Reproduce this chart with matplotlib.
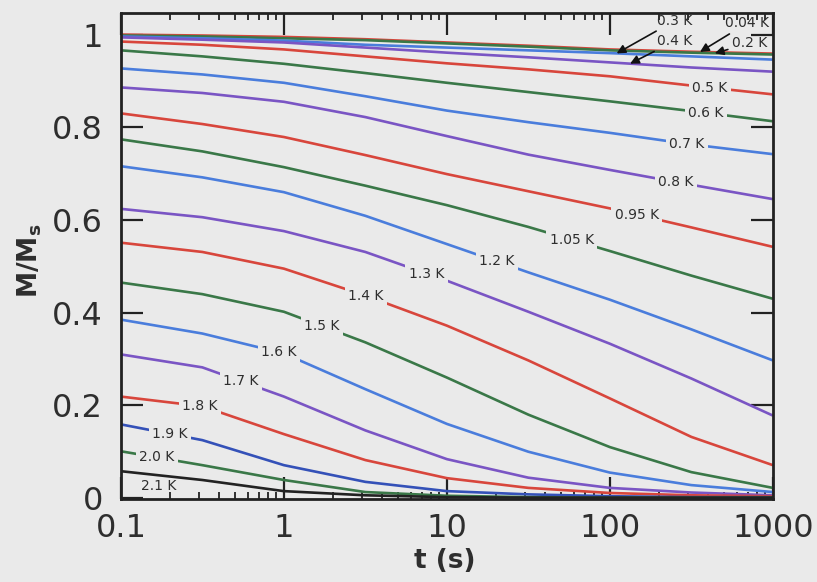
import numpy as np
import matplotlib
matplotlib.use("Agg")
import matplotlib.pyplot as plt
from matplotlib.ticker import FixedLocator, NullLocator, LogLocator, NullFormatter

# ---- data ----
t = [0.1, 0.316, 1, 3.16, 10, 31.6, 100, 316, 1000]

temps = ["0.04 K", "0.2 K", "0.3 K", "0.4 K", "0.5 K", "0.6 K", "0.7 K", "0.8 K",
         "0.95 K", "1.05 K", "1.2 K", "1.3 K", "1.4 K", "1.5 K", "1.6 K", "1.7 K",
         "1.8 K", "1.9 K", "2.0 K", "2.1 K"]

m_004 = [1.000, 0.998, 0.995, 0.990, 0.983, 0.976, 0.968, 0.963, 0.959]
m_02 = [0.998, 0.996, 0.992, 0.988, 0.981, 0.974, 0.966, 0.961, 0.957]
m_03 = [0.996, 0.992, 0.987, 0.978, 0.972, 0.966, 0.960, 0.953, 0.946]
m_04 = [0.994, 0.989, 0.983, 0.972, 0.961, 0.951, 0.940, 0.929, 0.920]
m_05 = [0.985, 0.978, 0.968, 0.953, 0.938, 0.925, 0.910, 0.890, 0.871]
m_06 = [0.966, 0.953, 0.937, 0.917, 0.896, 0.876, 0.856, 0.835, 0.813]
m_07 = [0.927, 0.914, 0.896, 0.867, 0.836, 0.811, 0.788, 0.763, 0.742]
m_08 = [0.886, 0.874, 0.855, 0.822, 0.781, 0.741, 0.708, 0.676, 0.645]
m_095 = [0.830, 0.807, 0.779, 0.740, 0.699, 0.662, 0.625, 0.584, 0.542]
m_105 = [0.774, 0.748, 0.714, 0.674, 0.632, 0.585, 0.533, 0.480, 0.430]
m_12 = [0.716, 0.692, 0.660, 0.609, 0.548, 0.487, 0.428, 0.364, 0.297]
m_13 = [0.624, 0.606, 0.576, 0.531, 0.469, 0.402, 0.333, 0.258, 0.178]
m_14 = [0.551, 0.531, 0.495, 0.437, 0.372, 0.297, 0.215, 0.132, 0.071]
m_15 = [0.465, 0.440, 0.402, 0.336, 0.260, 0.180, 0.110, 0.056, 0.022]
m_16 = [0.385, 0.355, 0.312, 0.235, 0.160, 0.100, 0.055, 0.028, 0.013]
m_17 = [0.310, 0.282, 0.219, 0.146, 0.084, 0.044, 0.022, 0.012, 0.006]
m_18 = [0.219, 0.198, 0.138, 0.082, 0.043, 0.022, 0.011, 0.006, 0.004]
m_19 = [0.159, 0.125, 0.071, 0.035, 0.015, 0.008, 0.004, 0.002, 0.002]
m_20 = [0.101, 0.071, 0.039, 0.013, 0.005, 0.002, 0.001, 0.001, 0.001]
m_21 = [0.058, 0.039, 0.015, 0.006, 0.002, 0.001, 0.001, 0.001, 0.001]

series = [m_004, m_02, m_03, m_04, m_05, m_06, m_07, m_08, m_095, m_105,
          m_12, m_13, m_14, m_15, m_16, m_17, m_18, m_19, m_20, m_21]

# inline label positions (t where label sits on its curve); None -> separate label
label_t = [None, None, None, None, 410, 388, 297, 254, 146, 58.5, 20.3, 7.5,
           3.18, 1.71, 0.93, 0.545, 0.305, 0.2, 0.166, None]

# arrow labels: (index, text position t, text position M, arrow tip t)
arrow_labels = [(2, 250, 1.030, 110), (3, 250, 0.986, 133),
                (0, 690, 1.024, 357), (1, 720, 0.981, 440)]

x_ticks = [0.1, 1, 10, 100, 1000]
x_tick_labels = ["0.1", "1", "10", "100", "1000"]
y_ticks = [0, 0.2, 0.4, 0.6, 0.8, 1]
y_tick_labels = ["0", "0.2", "0.4", "0.6", "0.8", "1"]

# ---- style ----
RED = "#d8463c"
GREEN = "#3a7848"
BLUE = "#4a7ddc"
PURPLE = "#7a55c4"
NAVY = "#3451b8"
BLACK = "#222222"
colors = [RED, GREEN, BLUE, PURPLE, RED, GREEN, BLUE, PURPLE, RED, GREEN,
          BLUE, PURPLE, RED, GREEN, BLUE, PURPLE, RED, NAVY, GREEN, BLACK]
BG = "#eaeaea"
TXT = "#2e2e2e"

plt.rcParams['font.family'] = ['DejaVu Sans']

fig = plt.figure(figsize=(8.17, 5.82), dpi=100, facecolor=BG)
ax = fig.add_axes([0.148, 0.1426, 0.798, 0.8354])
ax.set_facecolor(BG)

for m, c in zip(series, colors):
    ax.plot(t, m, color=c, lw=1.9, solid_capstyle='butt', solid_joinstyle='round',
            zorder=2)

logt = np.log10(t)
for i, lt in enumerate(label_t):
    if lt is None:
        continue
    yv = np.interp(np.log10(lt), logt, series[i])
    ax.text(lt, yv, temps[i], fontsize=10, color=TXT, ha="center", va="center",
            zorder=4, bbox=dict(boxstyle="square,pad=0.25", fc=BG, ec="none"))

# 2.1 K label sits under its curve near the bottom-left corner
ax.text(0.17, 0.026, temps[19], fontsize=10, color=TXT, ha="center",
        va="center", zorder=4)

for idx, tx, ty, tip in arrow_labels:
    tipy = np.interp(np.log10(tip), logt, series[idx])
    ax.annotate(temps[idx], xy=(tip, tipy), xytext=(tx, ty), fontsize=10,
                color=TXT, ha="center", va="center", zorder=5,
                arrowprops=dict(arrowstyle="-|>", color="#111111", lw=1.2,
                                mutation_scale=13, shrinkA=1, shrinkB=0))

ax.set_xscale("log")
ax.set_xlim(0.1, 1000)
ax.set_ylim(-0.002, 1.047)

ax.xaxis.set_major_locator(FixedLocator(x_ticks))
ax.set_xticklabels(x_tick_labels)
ax.xaxis.set_minor_locator(LogLocator(base=10, subs=np.arange(2, 10)))
ax.xaxis.set_minor_formatter(NullFormatter())
ax.yaxis.set_major_locator(FixedLocator(y_ticks))
ax.set_yticklabels(y_tick_labels)
ax.yaxis.set_minor_locator(NullLocator())

ax.tick_params(which="major", direction="in", length=16, width=1.6, top=True,
               right=True, labelsize=23, colors="#222222")
ax.tick_params(which="minor", direction="in", length=5, width=1.3, top=True,
               right=True, colors="#222222")
ax.tick_params(axis="x", which="major", pad=10)
ax.tick_params(axis="y", which="major", pad=13)
for lab in ax.get_xticklabels() + ax.get_yticklabels():
    lab.set_color(TXT)

for sp in ax.spines.values():
    sp.set_linewidth(2.0)
    sp.set_color("#222222")
    sp.set_zorder(6)

ax.set_xlabel("t (s)", fontsize=19, fontweight="bold", color=TXT)
ax.set_ylabel("M/M$_\\mathbf{s}$", fontsize=19, fontweight="bold", color=TXT)
ax.xaxis.set_label_coords(0.497, -0.1)
ax.yaxis.set_label_coords(-0.118, 0.49)

fig.savefig("out.png", dpi=100, facecolor=BG)
